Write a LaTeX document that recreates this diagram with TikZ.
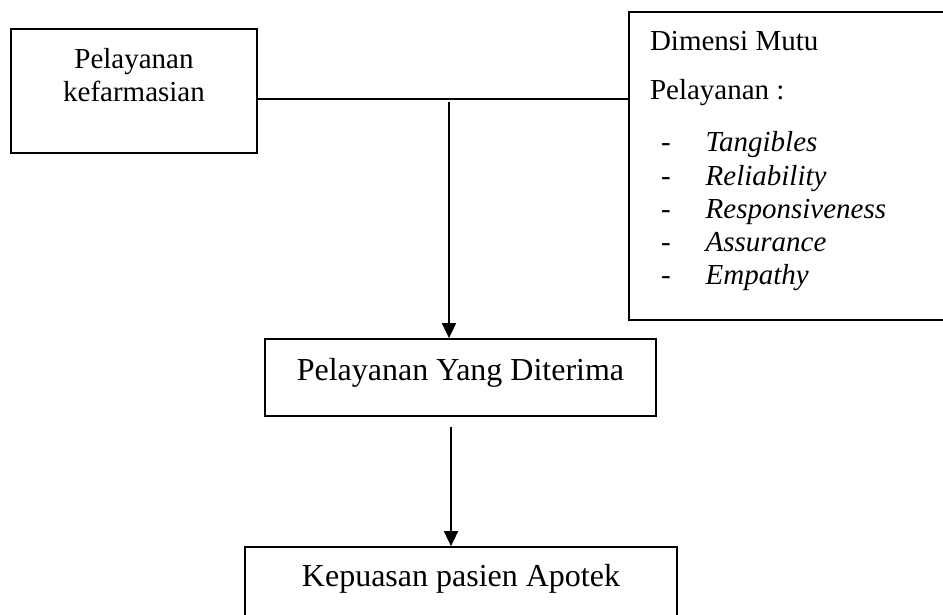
\documentclass[tikz,border=0pt]{standalone}
\usepackage{fontspec}
\setmainfont{Liberation Serif}
\usepackage{tikz}
\usetikzlibrary{positioning,arrows.meta}

\begin{document}
\begin{tikzpicture}[>={Triangle[width=14pt,length=15pt]}, x=1pt, y=-1pt, line width=1.8pt,
  box/.style={draw, inner sep=0pt},
  side/.style={inner sep=0pt, font=\fontsize{29}{33.3}\selectfont},
  main/.style={inner sep=0pt, font=\fontsize{32}{38}\selectfont}]
\useasboundingbox (0,0) rectangle (943,614);
\clip (0,0) rectangle (943,614);

% boxes (top row)
\node[box, minimum width=246pt, minimum height=124pt] (kefarmasian) at (134,91) {};
\node[box, minimum width=400pt, minimum height=308pt] (dimensi) at (829,166) {};

% boxes (middle and bottom)
\node[box, minimum width=391pt, minimum height=77pt] (diterima) at (460.5,377.5) {};
\node[box, minimum width=432pt, minimum height=93pt] (kepuasan) at (461,593.5) {};

% texts
\node[side, anchor=base] (kefarmasianText) at ([yshift=-40pt]kefarmasian.north)
  {\begin{tabular}[t]{@{}c@{}}Pelayanan\\kefarmasian\end{tabular}};
\node[side, anchor=base west] (dimensiText) at ([xshift=21pt,yshift=-39pt]dimensi.north west)
  {\begin{tabular}[t]{@{}l@{\hspace{35pt}}l@{}}
    \multicolumn{2}{@{}l@{}}{Dimensi Mutu}\\[16pt]
    \multicolumn{2}{@{}l@{}}{Pelayanan :}\\[19pt]
    \hspace{11pt}- & \textit{Tangibles}\\
    \hspace{11pt}- & \textit{Reliability}\\
    \hspace{11pt}- & \textit{Responsiveness}\\
    \hspace{11pt}- & \textit{Assurance}\\
    \hspace{11pt}- & \textit{Empathy}
  \end{tabular}};
\node[main, anchor=base] (diterimaText) at ([yshift=-42pt]diterima.north) {Pelayanan Yang Diterima};
\node[main, anchor=base] (kepuasanText) at ([yshift=-40pt]kepuasan.north) {Kepuasan pasien Apotek};

% connectors
\coordinate (junction) at (449,99);
\coordinate (below) at (451,427);
\draw (kefarmasian.east |- junction) -- (dimensi.west |- junction);
\draw[->] ([yshift=-3pt]junction) -- (junction |- diterima.north);
\draw[->] (below) -- (below |- kepuasan.north);
\end{tikzpicture}
\end{document}
